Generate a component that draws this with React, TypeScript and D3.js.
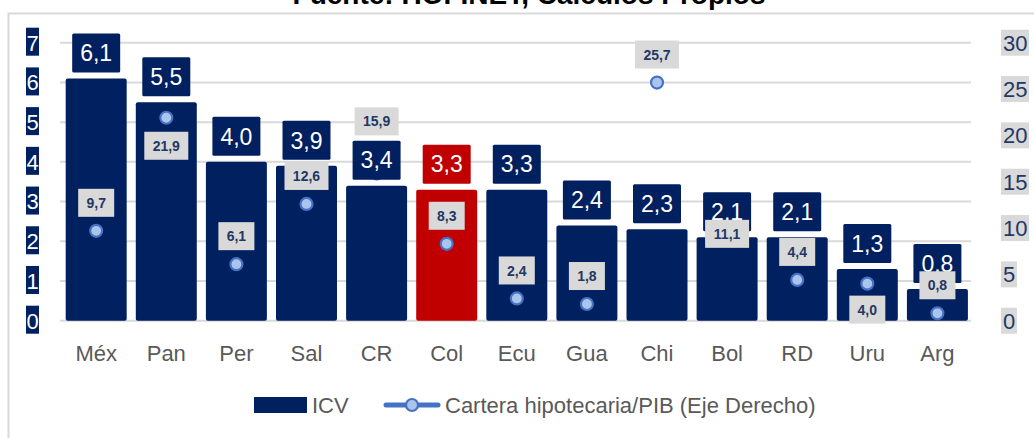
import * as d3 from "d3";

// datos del gráfico
const categories = ["Méx", "Pan", "Per", "Sal", "CR", "Col", "Ecu", "Gua", "Chi", "Bol", "RD", "Uru", "Arg"];
const icv = [6.1, 5.5, 4.0, 3.9, 3.4, 3.3, 3.3, 2.4, 2.3, 2.1, 2.1, 1.3, 0.8];
const cartera = [9.7, 21.9, 6.1, 12.6, 15.9, 8.3, 2.4, 1.8, 25.7, 11.1, 4.4, 4.0, 0.8];
const leftTicks = [0, 1, 2, 3, 4, 5, 6, 7];
const rightTicks = [0, 5, 10, 15, 20, 25, 30];
const highlight = "Col";
const title = "Fuente: HOFINET, Cálculos Propios";

// desplazamiento vertical de las etiquetas de la línea (default arriba)
const labelShift: Record<string, number> = { Pan: 28, CR: -52, Bol: 16, Uru: 26 };

const W = 1034;
const H = 438;
const font = "'Liberation Sans', Arial, sans-serif";
const navy = "#002060";
const red = "#c00000";
const grid = "#d9d9d9";
const labelGray = "#595959";
const lineBlue = "#4472c4";
const dotFill = "#aac4ec";
const darkText = "#1f3864";

const fmt = (v: number) => d3.format(".1f")(v).replace(".", ",");

export default function App() {
  const x = d3.scaleBand().domain(categories).range([61, 972.6]).paddingInner(0.13).paddingOuter(0.067);
  const yL = d3.scaleLinear().domain([0, 7]).range([320.7, 42.7]);
  const yR = d3.scaleLinear().domain([0, 30]).range([320.7, 42.7]);
  const bw = x.bandwidth();
  const cx = (c: string) => (x(c) ?? 0) + bw / 2;

  return (
    <div style={{ position: "absolute", left: 0, top: 0 }}>
      <svg width={W} height={H} style={{ display: "block", background: "#fff" }} fontFamily={font}>
        <text x={529} y={4} textAnchor="middle" fontSize={28} fontWeight="bold" fill="#000">{title}</text>
        <rect x={8.5} y={13.5} width={1040} height={440} fill="none" stroke={grid} strokeWidth={2} />

        {/* rejilla */}
        {leftTicks.map(t => (
          <line key={"g" + t} x1={60} x2={971} y1={yL(t)} y2={yL(t)} stroke={grid} strokeWidth={2} />
        ))}

        {/* eje izquierdo */}
        {leftTicks.map(t => (
          <g key={"l" + t}>
            <rect x={26} y={yL(t) - 15} width={13} height={28} fill={navy} />
            <text x={32.5} y={yL(t)} dy="0.36em" textAnchor="middle" fontSize={22} fill="#fff">{t}</text>
          </g>
        ))}

        {/* eje derecho */}
        {rightTicks.map(t => (
          <g key={"r" + t}>
            <rect x={1001} y={yR(t) - 13} width={String(t).length * 12 + 4} height={26} fill={grid} />
            <text x={1003} y={yR(t)} dy="0.36em" fontSize={22} fill={darkText}>{t}</text>
          </g>
        ))}

        {/* barras ICV */}
        {categories.map((c, i) => (
          <rect key={"b" + c} x={x(c)} y={yL(icv[i])} width={bw} height={yL(0) - yL(icv[i])}
            rx={2} fill={c === highlight ? red : navy} />
        ))}

        {/* marcadores cartera */}
        {categories.map((c, i) => (
          <circle key={"p" + c} cx={cx(c)} cy={yR(cartera[i])} r={6} fill={dotFill} stroke={lineBlue} strokeWidth={2.2} />
        ))}

        {/* etiquetas de barras */}
        {categories.map((c, i) => (
          <g key={"bl" + c}>
            <rect x={cx(c) - 24} y={yL(icv[i]) - 45} width={48} height={39} rx={1.5} fill={c === highlight ? red : navy} />
            <text x={cx(c)} y={yL(icv[i]) - 25.5} dy="0.36em" textAnchor="middle" fontSize={23} fill="#fff">{fmt(icv[i])}</text>
          </g>
        ))}

        {/* etiquetas de la línea */}
        {categories.map((c, i) => {
          const s = fmt(cartera[i]);
          const w = s.length * 8 + 12;
          const cy = yR(cartera[i]) + (labelShift[c] ?? -28);
          return (
            <g key={"pl" + c}>
              <rect x={cx(c) - w / 2} y={cy - 14} width={w} height={28} fill={grid} />
              <text x={cx(c)} y={cy} dy="0.36em" textAnchor="middle" fontSize={14} fontWeight="bold" fill={darkText}>{s}</text>
            </g>
          );
        })}

        {/* categorías */}
        {categories.map(c => (
          <text key={"c" + c} x={cx(c)} y={361} textAnchor="middle" fontSize={22} fill={labelGray}>{c}</text>
        ))}

        {/* leyenda */}
        <rect x={254} y={397} width={53} height={16} fill={navy} />
        <text x={312} y={413} fontSize={22} fill={labelGray}>ICV</text>
        <line x1={386} x2={438} y1={405} y2={405} stroke={lineBlue} strokeWidth={5} strokeLinecap="round" />
        <circle cx={412} cy={405} r={6} fill={dotFill} stroke={lineBlue} strokeWidth={2.2} />
        <text x={445} y={413} fontSize={22} fill={labelGray}>Cartera hipotecaria/PIB (Eje Derecho)</text>
      </svg>
    </div>
  );
}
